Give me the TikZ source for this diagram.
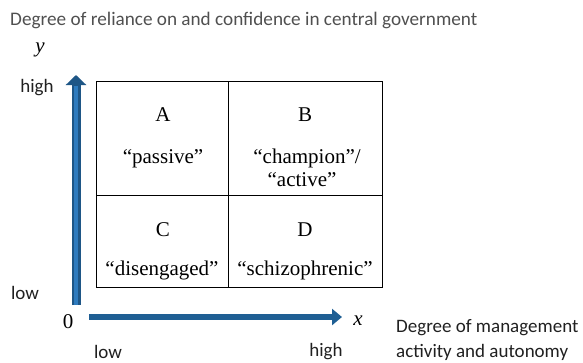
\documentclass[tikz,border=0pt]{standalone}
\usepackage{fontspec}
\setmainfont{Liberation Serif}
\newfontfamily\carlitofont{Carlito}
\usetikzlibrary{arrows.meta}
\definecolor{axblue}{HTML}{1F5F94}
\definecolor{axdark}{HTML}{1E5686}
\definecolor{axlight}{HTML}{2E7BBE}
\definecolor{txtgray}{HTML}{505050}
\definecolor{lblblack}{HTML}{202020}
\tikzset{
  serif/.style={font=\fontsize{21}{24}\selectfont},
  sans/.style={font=\carlitofont\fontsize{19.2}{22}\selectfont, text=txtgray},
  sansb/.style={font=\carlitofont\fontsize{19}{22}\selectfont, text=lblblack},
  vaxis/.style={line width=9pt, draw=axdark, -{Triangle[width=20pt,length=10pt]}},
  vaxisin/.style={line width=3.5pt, draw=axlight},
  haxis/.style={line width=6.5pt, draw=axblue, -{Triangle[width=16pt,length=10pt]}},
  grid/.style={line width=0.9pt},
}
\begin{document}
\begin{tikzpicture}[x=1pt,y=-1pt]
\useasboundingbox (0,0) rectangle (583,362);
\node[sans, anchor=west, inner sep=0pt] (title) at (10,20) {Degree of reliance on and confidence in central government};
\node[serif] (ylab) at (40,50) {\textit{y}};
\node[sansb] (yhigh) at (37,88) {high};
\node[sansb] (ylow) at (25,293) {low};
\node[serif] (zero) at (68,322) {0};
\coordinate (ybot) at (76,305);
\coordinate (ytop) at (76,75);
\coordinate (ytopin) at (76,86);
\draw[vaxis] (ybot) -- (ytop);
\draw[vaxisin] (ybot) -- (ytopin);
\coordinate (xl) at (89,317);
\coordinate (xr) at (342,317);
\draw[haxis] (xl) -- (xr);
\node[serif] (xlab) at (358,321) {\textit{x}};
\node[sansb] (xlow) at (108,352) {low};
\node[sansb] (xhigh) at (326,352) {high};
\node[sansb, anchor=west, inner sep=0pt] (xtitle1) at (396,328) {Degree of management};
\node[sansb, anchor=west, inner sep=0pt] (xtitle2) at (396,352) {activity and autonomy};
\draw[grid] (96,81) rectangle (382,287);
\draw[grid] (228,81) -- (228,287);
\draw[grid] (96,195) -- (382,195);
\node[serif] (A) at (163,115) {A};
\node[serif] (B) at (305,115) {B};
\node[serif] (pa) at (163,159) {“passive”};
\node[serif] (ch) at (307,158) {“champion”/};
\node[serif] (ac) at (302,180) {“active”};
\node[serif] (C) at (163,230) {C};
\node[serif] (D) at (305,230) {D};
\node[serif] (di) at (162,270) {“disengaged”};
\node[serif] (sc) at (305,270) {“schizophrenic”};
\end{tikzpicture}
\end{document}
